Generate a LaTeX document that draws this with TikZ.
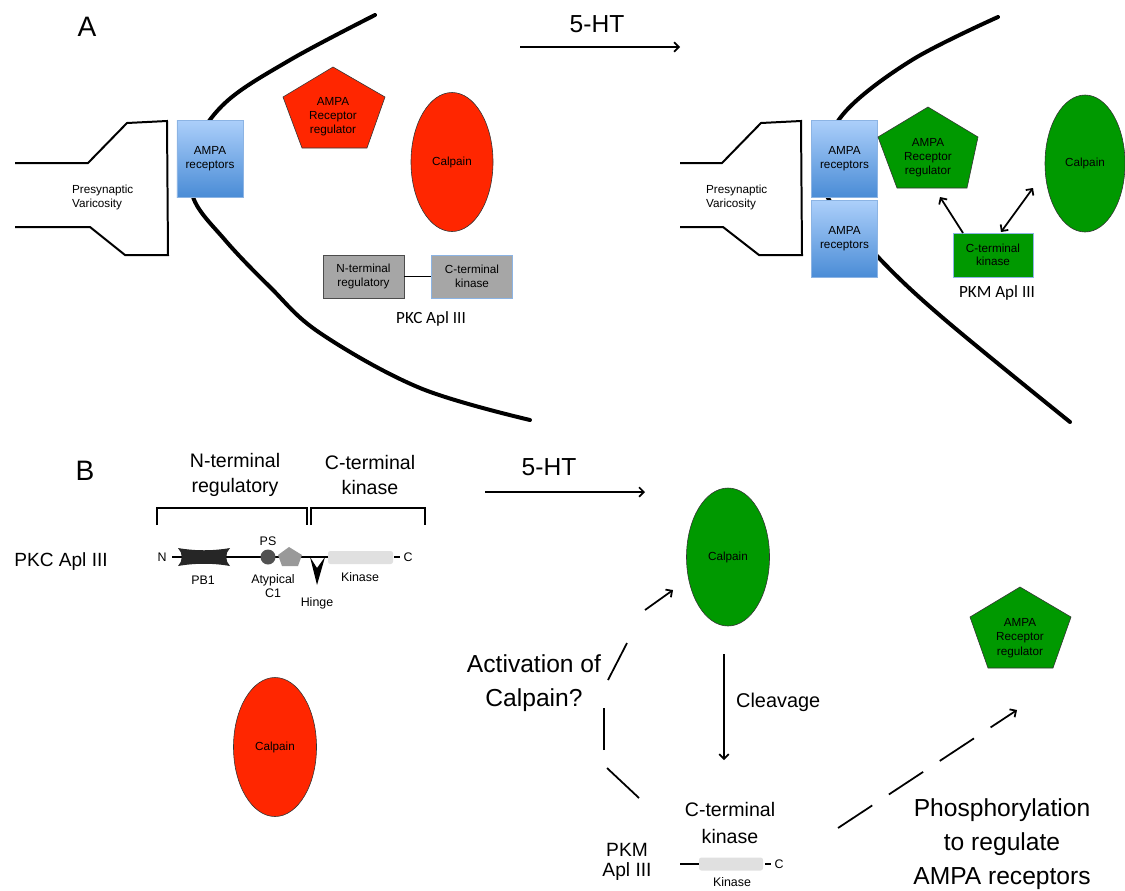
\documentclass[tikz,border=0pt]{standalone}
\usepackage{fontspec}
\setmainfont{Liberation Sans}
\newfontfamily\calib{Carlito}
\usetikzlibrary{arrows.meta,shapes.geometric}
\definecolor{calred}{RGB}{255,38,0}
\definecolor{calgreen}{RGB}{0,153,0}
\definecolor{ampatop}{RGB}{172,207,250}
\definecolor{ampabot}{RGB}{74,140,214}
\definecolor{ampaedge}{RGB}{140,180,228}
\definecolor{boxgray}{RGB}{166,166,166}
\newcommand\myfs[2]{\fontsize{#1}{#2}\selectfont}
\begin{document}
\begin{tikzpicture}[x=0.03cm,y=-0.03cm,
  membrane/.style={line width=3.4pt,line cap=round},
  outline/.style={line width=1.7pt,line join=miter},
  arr/.style={line width=1.5pt,-{Straight Barb[length=4pt,width=8pt]}},
  darr/.style={line width=1.5pt,{Straight Barb[length=4pt,width=8pt]}-{Straight Barb[length=4pt,width=8pt]}},
  ampabox/.style={draw=ampaedge,top color=ampatop,bottom color=ampabot,minimum width=1.99cm,minimum height=2.31cm,inner sep=0pt,align=center,font=\myfs{10}{12}},
  graybox/.style={draw=black!70,fill=boxgray,minimum width=2.43cm,minimum height=1.29cm,inner sep=0pt,align=center,font=\myfs{10}{11.5}},
  calpain/.style={ellipse,draw=black!80,line width=0.5pt,minimum width=2.46cm,minimum height=4.17cm,inner sep=0pt,font=\myfs{10}{12}},
  small/.style={font=\myfs{10}{12},align=center},
  dom/.style={font=\myfs{10.6}{12},inner sep=0pt},
  big/.style={font=\myfs{21}{29},align=center},
  mid/.style={font=\myfs{16.7}{22},align=center},
  panel/.style={font=\myfs{24}{28}},
  pent/.style={line width=0.5pt,draw=black!80}
]
\useasboundingbox (0,0) rectangle (1125,890);

% ================= Panel A =================
\node[panel] (labA) at (87,27) {A};
\node[big] (htA) at (597,24) {5-HT};
\coordinate (htAs) at (520,47);
\coordinate (htAe) at (680,47);
\draw[arr] (htAs) -- (htAe);

% left membrane
\draw[membrane] plot[smooth,tension=0.6] coordinates {(375,15) (290,60) (225,103) (194,150) (193,197) (225,240) (270,287) (320,333) (420,388) (530,420)};
% left presynaptic varicosity
\draw[outline] (15,163) -- (88,163) -- (127,123) -- (167,121) -- (168,255) -- (125,255) -- (90,227) -- (15,227);
\node[small,align=left,anchor=west] (preA) at (68,197) {Presynaptic\\Varicosity};
\node[ampabox] (ampaA) at (210,158.5) {AMPA\\receptors};

% red regulator
\filldraw[pent,fill=calred] (333,67) -- (385,97) -- (367,148) -- (302,148) -- (283,97) -- cycle;
\node[small] (regA) at (333,117) {AMPA\\Receptor\\regulator};
\node[calpain,fill=calred] (calA) at (452,162) {Calpain};

\node[graybox] (ntA) at (363.5,276.5) {N-terminal\\regulatory};
\node[graybox,draw=ampaedge] (ctA) at (472,276.5) {C-terminal\\kinase};
\draw[line width=1.3pt] (ntA.east) -- (ctA.west);
\node[font=\calib\myfs{14.6}{16}] (pkcA) at (431,319) {PKC Apl III};

% right membrane
\draw[membrane] plot[smooth,tension=0.6] coordinates {(998,17) (912,60) (845,112) (823,160) (828,198) (878,257) (943,318) (1070,422)};
\draw[outline] (680,163) -- (722,163) -- (761,123) -- (801,121) -- (802,255) -- (759,255) -- (723,227) -- (680,227);
\node[small,align=left,anchor=west] (preB) at (702,197) {Presynaptic\\Varicosity};
\node[ampabox] (ampaB1) at (844.5,158.5) {AMPA\\receptors};
\node[ampabox] (ampaB2) at (844.5,239) {AMPA\\receptors};

\filldraw[pent,fill=calgreen] (928,107) -- (978,137) -- (967,188) -- (897,188) -- (878,137) -- cycle;
\node[small] (regB) at (928,158) {AMPA\\Receptor\\regulator};
\node[calpain,fill=calgreen,minimum width=2.4cm,minimum height=4.11cm] (calB) at (1085,163.5) {Calpain};
\node[graybox,fill=calgreen,draw=ampaedge,minimum width=2.4cm,minimum height=1.32cm] (ctB) at (993,255) {C-terminal\\kinase};
\node[font=\calib\myfs{14.6}{16}] (pkmA) at (997,293) {PKM Apl III};
\coordinate (k1s) at (963,233);
\coordinate (k1e) at (940,197);
\draw[arr] (k1s) -- (k1e);
\coordinate (k2s) at (1001,232);
\coordinate (k2e) at (1033,188);
\draw[darr] (k2s) -- (k2e);

% ================= Panel B =================
\node[panel] (labB) at (85,471) {B};
\node[mid] (ntB) at (235,475) {N-terminal\\regulatory};
\node[mid] (ctBt) at (370,475) {C-terminal\\kinase};
\draw[line width=2.2pt] (157,525) -- (157,508) -- (307,508) -- (307,525);
\draw[line width=2.2pt] (311,525) -- (311,508) -- (425,508) -- (425,525);
\node[font=\myfs{16.3}{19}] (pkcB) at (61,562) {PKC Apl III};

% domain diagram
\draw[line width=2.2pt] (172,557) -- (330,557);
\draw[line width=2.2pt] (394,557) -- (400,557);
\node[dom] (nN) at (162,557) {N};
\node[dom] (nC) at (408,557) {C};
\fill[black!85] (178,548) .. controls (195,551) and (213,551) .. (230,548) .. controls (225,553) and (225,561) .. (230,566) .. controls (213,563) and (195,563) .. (178,566) .. controls (183,561) and (183,553) .. (178,548) -- cycle;
\node[dom] (pb1) at (203,580) {PB1};
\fill[black!68] (268,557) circle[radius=7.5];
\node[dom] (ps) at (268,541) {PS};
\fill[black!40] (289,547) -- (302,555) -- (298,566) -- (282,566) -- (278,555) -- cycle;
\node[dom,align=center,font=\myfs{10.6}{12}] (atyp) at (273,586) {Atypical\\C1};
\fill[black] (310,557) -- (317,585) -- (325,557) -- (317,568) -- cycle;
\node[dom] (hinge) at (317,603) {Hinge};
\fill[black!12,rounded corners=2pt] (328,551) rectangle (393,564);
\node[dom] (kinB) at (360,577) {Kinase};

\node[big] (htB) at (549,467) {5-HT};
\coordinate (htBs) at (485,492);
\coordinate (htBe) at (645,492);
\draw[arr] (htBs) -- (htBe);

\node[calpain,fill=calgreen,minimum width=2.49cm,minimum height=4.14cm] (calC) at (728,557) {Calpain};
\node[calpain,fill=calred,minimum width=2.49cm,minimum height=4.17cm] (calD) at (275,747) {Calpain};

% activation (dashed) path
\coordinate (a1) at (639,798);
\coordinate (a2) at (607,768);
\coordinate (a3) at (604,750);
\coordinate (a4) at (604,708);
\coordinate (a5) at (608,680);
\coordinate (a6) at (627,643);
\coordinate (a7) at (645,610);
\coordinate (a8) at (673,590);
\draw[line width=1.5pt] (a1) -- (a2);
\draw[line width=1.5pt] (a3) -- (a4);
\draw[line width=1.5pt] (a5) -- (a6);
\draw[arr] (a7) -- (a8);
\node[big] (act) at (534,683) {Activation of\\Calpain?};

\coordinate (cl1) at (724,654);
\coordinate (cl2) at (724,760);
\draw[arr] (cl1) -- (cl2);
\node[font=\myfs{17}{20},anchor=west] (clv) at (732,702) {Cleavage};

\node[mid,font=\myfs{16.7}{23}] (ctC) at (730,823) {C-terminal\\kinase};
\node[font=\myfs{16.4}{17},align=center] (pkmB) at (627,862) {PKM\\Apl III};
\draw[line width=2.4pt] (680,864) -- (700,864);
\fill[black!12,rounded corners=2pt] (699,857.5) rectangle (763,870.5);
\draw[line width=2.4pt] (765,864) -- (771,864);
\node[dom] (cC) at (779,864) {C};
\node[dom] (kinC) at (732,882) {Kinase};

\filldraw[pent,fill=calgreen] (1020,587) -- (1071,617) -- (1053,668) -- (988,668) -- (970,617) -- cycle;
\node[small,font=\myfs{10}{12.5}] (regC) at (1020,638) {AMPA\\Receptor\\regulator};

\coordinate (ph1) at (838,828);
\coordinate (ph2) at (1017,710);
\draw[arr,dash pattern=on 35pt off 17pt] (ph1) -- (ph2);
\node[big] (phos) at (1002,844) {Phosphorylation\\to regulate\\AMPA receptors};
\end{tikzpicture}
\end{document}
